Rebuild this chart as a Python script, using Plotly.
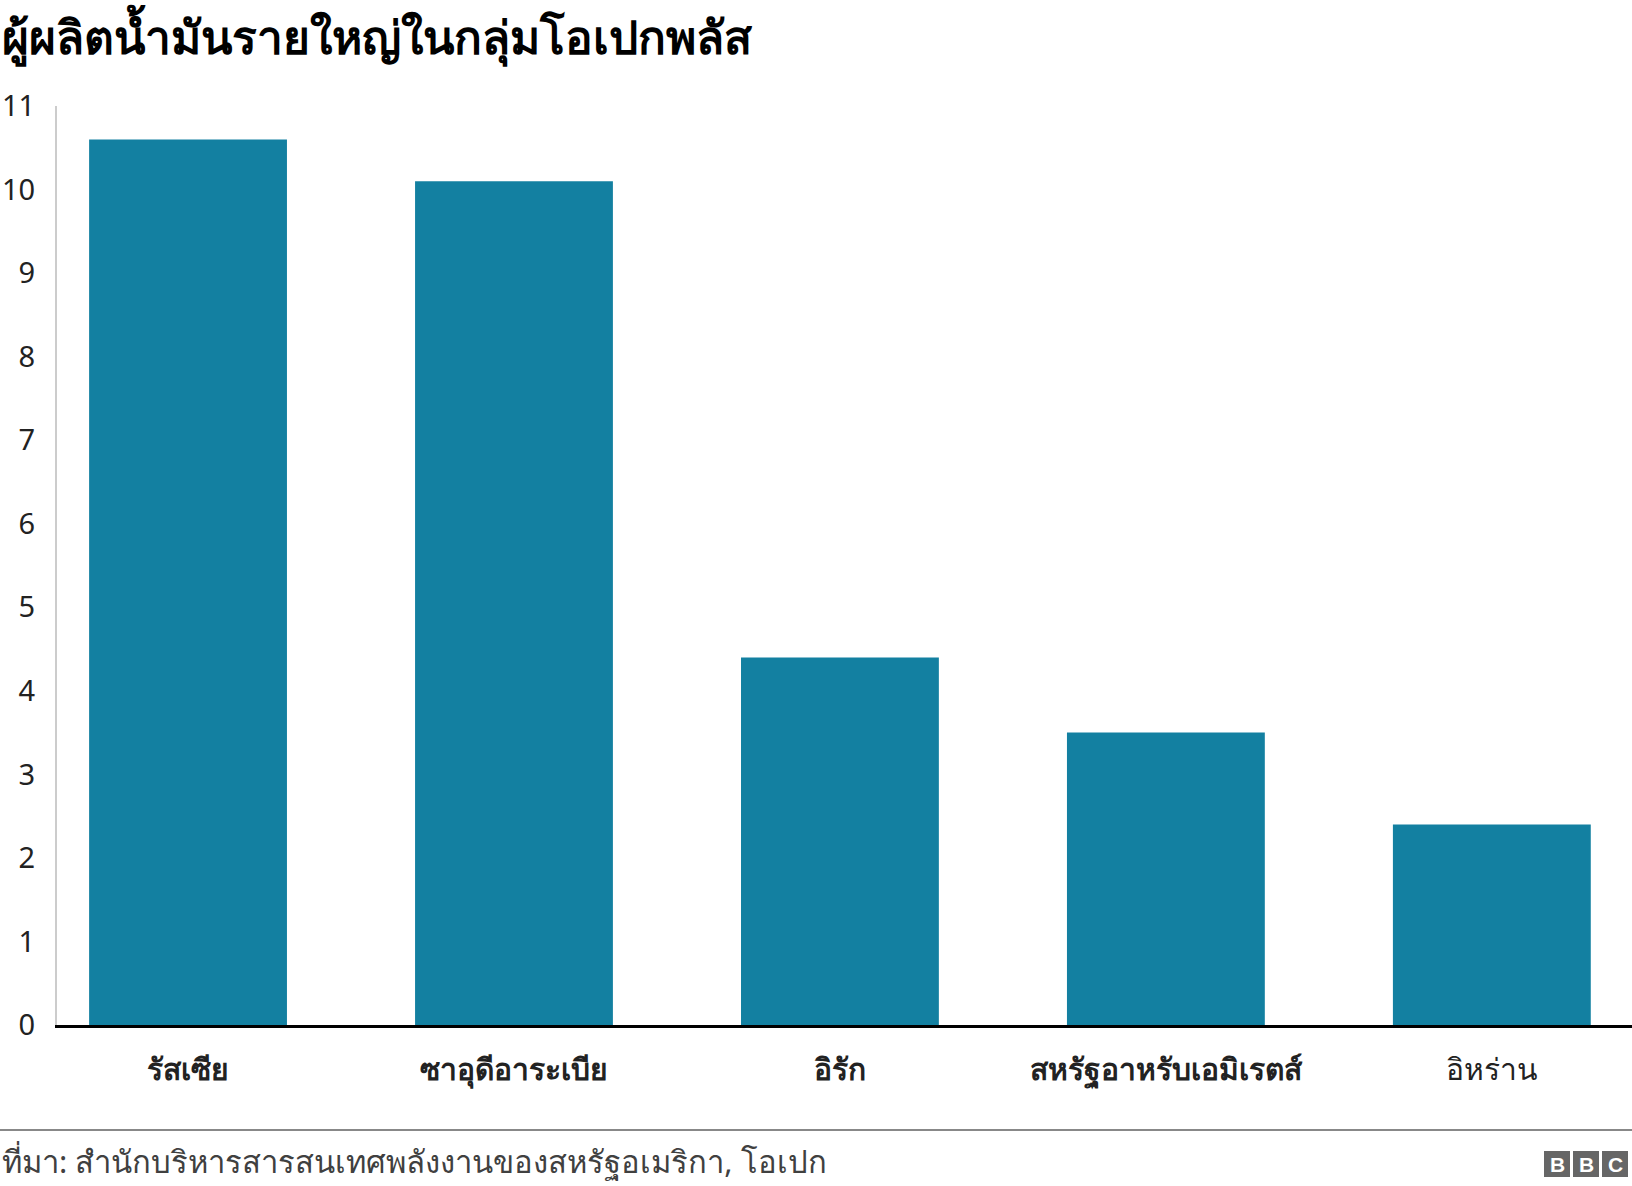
import plotly.graph_objects as go

categories = ["รัสเซีย", "ซาอุดีอาระเบีย", "อิรัก", "สหรัฐอาหรับเอมิเรตส์", "อิหร่าน"]
category_bold = [True, True, True, True, False]
values = [10.6, 10.1, 4.4, 3.5, 2.4]
y_ticks = list(range(0, 12))
title_text = "ผู้ผลิตน้ำมันรายใหญ่ในกลุ่มโอเปกพลัส"
source_text = "ที่มา: สำนักบริหารสารสนเทศพลังงานของสหรัฐอเมริกา, โอเปก"

W, H = 1632, 1186
L, R, T, B = 57, 0, 106, 161
plot_w = W - L - R
plot_h = H - T - B

def px(x):
    return (x - L) / plot_w

def py(y):
    return (H - B - y) / plot_h

BAR = "#1380A1"
FONT = "Noto Sans, Verdana, DejaVu Sans, sans-serif"

ticktext = [("<b>%s</b>" % c) if b else c for c, b in zip(categories, category_bold)]

fig = go.Figure()
fig.add_trace(go.Bar(
    x=list(range(len(categories))), y=values,
    marker=dict(color=BAR, line=dict(width=0)),
    width=0.607, hoverinfo="skip",
))

fig.update_layout(
    width=W, height=H,
    margin=dict(l=L, r=R, t=T, b=B, pad=0),
    paper_bgcolor="white", plot_bgcolor="white",
    showlegend=False,
    font=dict(family=FONT, color="#222222"),
    xaxis=dict(
        range=[-0.402, 4.43], automargin=False,
        tickmode="array", tickvals=list(range(len(categories))), ticktext=ticktext,
        showgrid=False, zeroline=False,
        showline=True, linecolor="#000000", linewidth=3,
        ticks="", ticklabelstandoff=16,
        tickfont=dict(size=30, color="#222222", family=FONT),
    ),
    yaxis=dict(
        range=[0, 11], automargin=False,
        tickmode="array", tickvals=y_ticks, ticktext=[str(v) for v in y_ticks],
        showgrid=False, zeroline=False,
        showline=True, linecolor="#cccccc", linewidth=2,
        ticks="", ticklabelstandoff=14,
        tickfont=dict(size=29, color="#222222", family=FONT),
    ),
)

# title
fig.add_annotation(
    x=px(0), y=py(35), xref="paper", yref="paper", xanchor="left", yanchor="middle",
    text="<b>" + title_text + "</b>", showarrow=False,
    font=dict(size=46, color="#000000", family=FONT),
)

# footer line
fig.add_shape(type="line", xref="paper", yref="paper",
              x0=px(0), x1=px(W), y0=py(1130), y1=py(1130),
              line=dict(color="#888888", width=2))

# source
fig.add_annotation(
    x=px(0), y=py(1161), xref="paper", yref="paper", xanchor="left", yanchor="middle",
    text=source_text, showarrow=False,
    font=dict(size=31, color="#404040", family=FONT),
)

# BBC logo
for i, letter in enumerate(["B", "B", "C"]):
    x0 = 1544 + i * 29
    x1 = x0 + 26
    fig.add_shape(type="rect", xref="paper", yref="paper",
                  x0=px(x0), x1=px(x1), y0=py(1151), y1=py(1177),
                  fillcolor="#666666", line=dict(width=0))
    fig.add_annotation(
        x=px((x0 + x1) / 2), y=py(1164), xref="paper", yref="paper",
        xanchor="center", yanchor="middle", text="<b>" + letter + "</b>",
        showarrow=False, font=dict(size=21, color="white", family="Liberation Sans, Arial, sans-serif"),
    )

fig.write_html("out.html", config={"displayModeBar": False},
               post_script="document.body.style.margin='0';document.body.style.padding='0';")
